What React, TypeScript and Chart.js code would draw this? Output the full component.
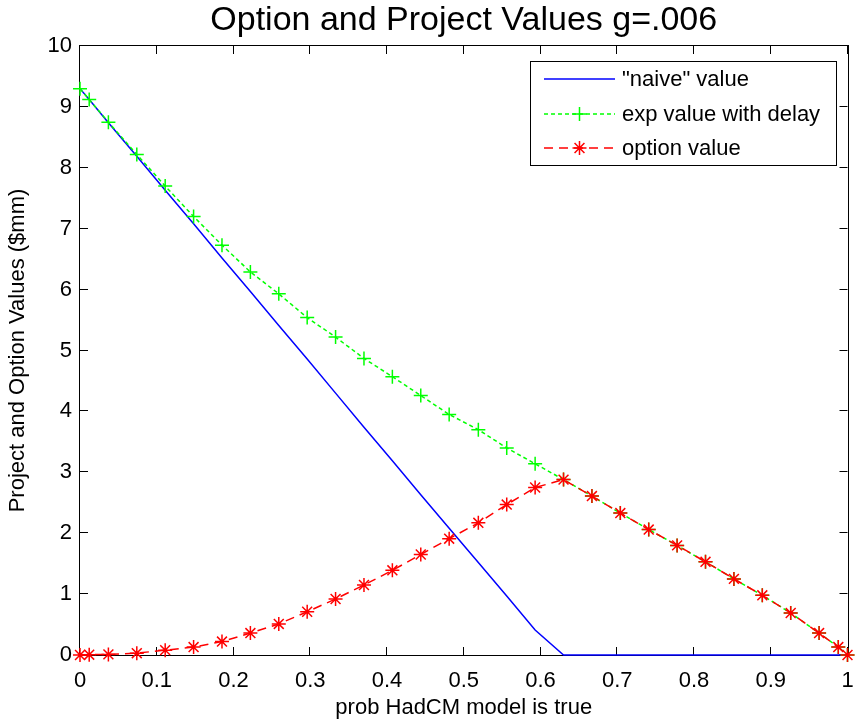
import React, { useEffect, useRef } from "react";
import { Chart, registerables } from "chart.js";

Chart.register(...registerables);

const titleText = "Option and Project Values g=.006";
const xAxisTitle = "prob HadCM model is true";
const yAxisTitle = "Project and Option Values ($mm)";

const xValues = [
  0, 0.012, 0.037, 0.074, 0.111, 0.148, 0.185, 0.222, 0.259, 0.296, 0.333, 0.37,
  0.407, 0.444, 0.481, 0.519, 0.556, 0.593, 0.63, 0.667, 0.704, 0.741, 0.778,
  0.815, 0.852, 0.889, 0.926, 0.963, 0.988, 1,
];
const naiveValues = [
  9.3, 9.12, 8.74, 8.19, 7.63, 7.08, 6.52, 5.97, 5.41, 4.86, 4.3, 3.74, 3.19,
  2.63, 2.08, 1.52, 0.97, 0.41, 0, 0, 0, 0, 0, 0, 0, 0, 0, 0, 0, 0,
];
const delayValues = [
  9.3, 9.12, 8.75, 8.22, 7.7, 7.2, 6.73, 6.29, 5.93, 5.54, 5.22, 4.87, 4.57,
  4.26, 3.95, 3.7, 3.4, 3.14, 2.88, 2.61, 2.33, 2.06, 1.8, 1.53, 1.25, 0.98,
  0.69, 0.36, 0.13, 0,
];
const optionValues = [
  0, 0.005, 0.01, 0.03, 0.08, 0.13, 0.22, 0.36, 0.51, 0.71, 0.92, 1.15, 1.39,
  1.65, 1.91, 2.17, 2.47, 2.75, 2.88, 2.61, 2.33, 2.06, 1.8, 1.53, 1.25, 0.98,
  0.69, 0.36, 0.13, 0,
];
const seriesLabels = ['"naive" value', "exp value with delay", "option value"];
const xTickLabels = ["0", "0.1", "0.2", "0.3", "0.4", "0.5", "0.6", "0.7", "0.8", "0.9", "1"];
const yTickLabels = ["0", "1", "2", "3", "4", "5", "6", "7", "8", "9", "10"];

const FONT = '"Liberation Sans", Arial, Helvetica, sans-serif';

function drawMarker(ctx: CanvasRenderingContext2D, style: string, x: number, y: number, r: number) {
  ctx.beginPath();
  ctx.moveTo(x - r, y);
  ctx.lineTo(x + r, y);
  ctx.moveTo(x, y - r);
  ctx.lineTo(x, y + r);
  if (style === "star") {
    const d = r * Math.SQRT1_2;
    ctx.moveTo(x - d, y - d);
    ctx.lineTo(x + d, y + d);
    ctx.moveTo(x - d, y + d);
    ctx.lineTo(x + d, y - d);
  }
  ctx.stroke();
}

const boxPlugin = {
  id: "matlabBox",
  beforeDatasetsDraw(chart: any) {
    const { ctx, chartArea } = chart;
    const { left, right, top, bottom } = chartArea;
    ctx.save();
    ctx.strokeStyle = "#000";
    ctx.lineWidth = 1;
    ctx.setLineDash([]);
    ctx.strokeRect(Math.round(left) - 0.5, Math.round(top) - 0.5, Math.round(right - left) + 1, Math.round(bottom - top) + 1);
    const tl = 8;
    const xs = chart.scales.x;
    const ys = chart.scales.y;
    ctx.beginPath();
    xs.ticks.forEach((t: any) => {
      const px = Math.round(xs.getPixelForValue(t.value)) - 0.5;
      ctx.moveTo(px, bottom);
      ctx.lineTo(px, bottom - tl);
      ctx.moveTo(px, top);
      ctx.lineTo(px, top + tl);
    });
    ys.ticks.forEach((t: any) => {
      const py = Math.round(ys.getPixelForValue(t.value)) - 0.5;
      ctx.moveTo(left, py);
      ctx.lineTo(left + tl, py);
      ctx.moveTo(right, py);
      ctx.lineTo(right - tl, py);
    });
    ctx.stroke();
    ctx.restore();
  },
};

const legendPlugin = {
  id: "matlabLegend",
  afterDraw(chart: any) {
    const { ctx } = chart;
    const bx = 530.5, by = 61.5, bw = 306, bh = 104;
    ctx.save();
    ctx.fillStyle = "#fff";
    ctx.fillRect(bx, by, bw, bh);
    ctx.strokeStyle = "#000";
    ctx.lineWidth = 1;
    ctx.setLineDash([]);
    ctx.strokeRect(bx, by, bw, bh);
    const rows = [79, 114, 148];
    chart.data.datasets.forEach((ds: any, i: number) => {
      const y = rows[i];
      ctx.strokeStyle = ds.borderColor;
      ctx.lineWidth = ds.borderWidth;
      ctx.setLineDash(ds.borderDash || []);
      ctx.beginPath();
      ctx.moveTo(544, y);
      ctx.lineTo(615, y);
      ctx.stroke();
      ctx.setLineDash([]);
      if (ds.pointRadius > 0) {
        ctx.lineWidth = ds.pointBorderWidth;
        ctx.strokeStyle = ds.pointBorderColor;
        drawMarker(ctx, ds.pointStyle, 579.5, y, ds.pointRadius);
      }
      ctx.fillStyle = "#000";
      ctx.font = `22px ${FONT}`;
      ctx.textAlign = "left";
      ctx.textBaseline = "middle";
      ctx.fillText(ds.label, 622, y + 1);
    });
    ctx.restore();
  },
};

export default function App() {
  const ref = useRef<HTMLCanvasElement | null>(null);
  useEffect(() => {
    document.body.style.margin = "0";
    const canvas = ref.current;
    if (!canvas) return;
    Chart.defaults.font.family = FONT;
    Chart.defaults.color = "#000";
    const pts = (ys: number[]) => xValues.map((x, i) => ({ x, y: ys[i] }));
    const chart = new Chart(canvas, {
      type: "line",
      data: {
        datasets: [
          {
            label: seriesLabels[0],
            data: pts(naiveValues),
            borderColor: "#0000ff",
            borderWidth: 1.5,
            pointRadius: 0,
            pointStyle: "line",
            order: 3,
            clip: false,
          } as any,
          {
            label: seriesLabels[1],
            data: pts(delayValues),
            borderColor: "#00ff00",
            borderWidth: 1.5,
            borderDash: [4, 3],
            pointStyle: "cross",
            pointRadius: 7,
            pointBorderWidth: 1.5,
            pointBorderColor: "#00ff00",
            pointBackgroundColor: "#00ff00",
            order: 2,
            clip: false,
          },
          {
            label: seriesLabels[2],
            data: pts(optionValues),
            borderColor: "#ff0000",
            borderWidth: 1.5,
            borderDash: [9, 6],
            pointStyle: "star",
            pointRadius: 7,
            pointBorderWidth: 1.5,
            pointBorderColor: "#ff0000",
            pointBackgroundColor: "#ff0000",
            order: 1,
            clip: false,
          },
        ],
      },
      options: {
        responsive: false,
        animation: false,
        events: [],
        layout: { padding: { left: 0, right: 6, top: 0, bottom: 0 } },
        plugins: {
          legend: { display: false },
          tooltip: { enabled: false },
          title: {
            display: true,
            fullSize: false,
            text: titleText,
            color: "#000",
            font: { size: 34, weight: "normal", family: FONT },
            padding: { top: 0, bottom: 5.2 },
          },
        },
        scales: {
          x: {
            type: "linear",
            min: 0,
            max: 1,
            grid: { display: false, drawTicks: false },
            border: { display: false },
            ticks: {
              stepSize: 0.1,
              padding: 13,
              maxRotation: 0,
              autoSkip: false,
              font: { size: 22 },
              color: "#000",
              callback: (_v: any, i: number) => xTickLabels[i],
            },
            title: {
              display: true,
              text: xAxisTitle,
              color: "#000",
              font: { size: 22 },
              padding: { top: 0, bottom: 1.5 },
            },
            afterFit: (s: any) => {
              s.height = 68;
              s.paddingLeft = 0;
              s.paddingRight = 0;
            },
          },
          y: {
            type: "linear",
            min: 0,
            max: 10,
            grid: { display: false, drawTicks: false },
            border: { display: false },
            ticks: {
              stepSize: 1,
              padding: 8,
              autoSkip: false,
              font: { size: 22 },
              color: "#000",
              callback: (_v: any, i: number) => yTickLabels[i],
            },
            title: {
              display: true,
              text: yAxisTitle,
              color: "#000",
              font: { size: 22 },
              padding: { top: 4.8, bottom: 0 },
            },
            afterFit: (s: any) => {
              s.width = 80;
              s.paddingTop = 0;
              s.paddingBottom = 0;
            },
          },
        },
      },
      plugins: [boxPlugin, legendPlugin],
    });
    return () => chart.destroy();
  }, []);
  return (
    <div style={{ position: "absolute", left: 0, top: 0, width: 856, height: 723, background: "#fff" }}>
      <canvas ref={ref} width={856} height={723} style={{ display: "block", width: 856, height: 723 }} />
    </div>
  );
}
